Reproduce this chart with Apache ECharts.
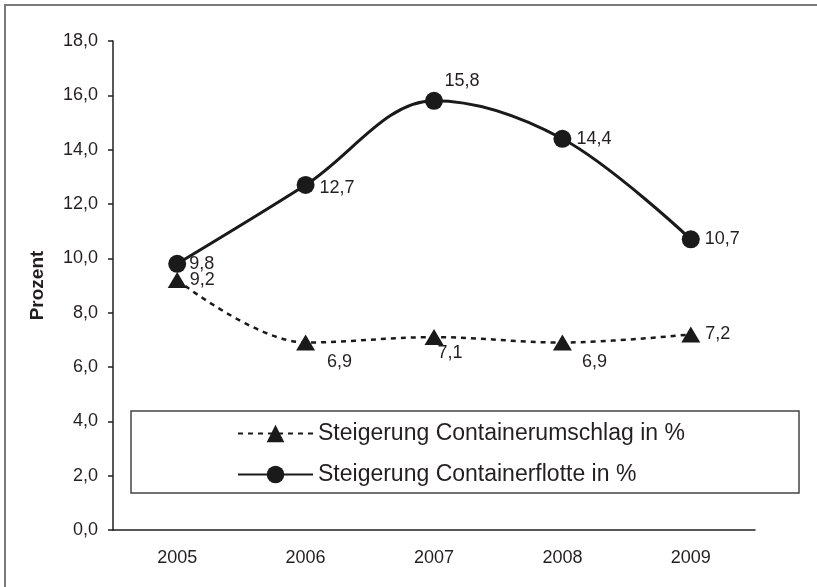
<!DOCTYPE html>
<html>
<head>
<meta charset="utf-8">
<script src="https://cdn.jsdelivr.net/npm/echarts@6/dist/echarts.min.js"></script>
<style>
  html, body { margin: 0; padding: 0; background: #fff; }
  #chart { width: 817px; height: 587px; }
</style>
</head>
<body>
<div id="chart"></div>
<script>
const years = ['2005', '2006', '2007', '2008', '2009']
const umschlag = [9.2, 6.9, 7.1, 6.9, 7.2]
const flotte = [9.8, 12.7, 15.8, 14.4, 10.7]
const seriesNames = ['Steigerung Containerumschlag in %', 'Steigerung Containerflotte in %']

const ink = '#231f20'
const font = 'Liberation Sans, Arial, sans-serif'
const fmt = v => v.toFixed(1).replace('.', ',')

// label placement per point (styling only)
const umschlagLabels = [
  { position: 'right', offset: [-2, 0] },
  { position: 'bottom', offset: [34, -3] },
  { position: 'bottom', offset: [16, -6] },
  { position: 'bottom', offset: [32, -3] },
  { position: 'right', offset: [0, 0] },
]
const flotteLabels = [
  { position: 'right', offset: [-2, 0] },
  { position: 'right', offset: [0, 3] },
  { position: 'top', offset: [28, 3] },
  { position: 'right', offset: [0, 0] },
  { position: 'right', offset: [0, 0] },
]

const labelBase = {
  show: true,
  color: ink,
  fontSize: 18,
  fontFamily: font,
  formatter: p => fmt(p.value),
}

const chart = echarts.init(document.getElementById('chart'))
chart.setOption({
  animation: false,
  textStyle: { fontFamily: font, color: ink },
  grid: { left: 113, right: 62, top: 41, bottom: 57 },
  graphic: [
    {
      type: 'polyline',
      shape: { points: [[5, 587], [5, 5], [817, 5]] },
      style: { stroke: '#7a7a7a', lineWidth: 2, fill: null },
      silent: true,
    },
    {
      type: 'rect',
      shape: { x: 131, y: 411, width: 668, height: 82 },
      style: { stroke: '#444', lineWidth: 1.5, fill: '#fff' },
      z: 0,
      silent: true,
    },
  ],
  legend: {
    orient: 'vertical',
    left: 237,
    top: 422,
    padding: 0,
    itemWidth: 75,
    itemHeight: 22,
    itemGap: 18,
    textStyle: { fontSize: 23, lineHeight: 22, color: ink, fontFamily: font },
    data: seriesNames,
    z: 5,
  },
  xAxis: {
    type: 'category',
    data: years,
    boundaryGap: true,
    axisLine: { lineStyle: { color: ink, width: 1.5 } },
    axisTick: { length: 5, lineStyle: { color: ink, width: 1.5 } },
    axisLabel: { color: ink, fontSize: 18, margin: 19, fontFamily: font },
  },
  yAxis: {
    type: 'value',
    min: 0,
    max: 18,
    interval: 2,
    name: 'Prozent',
    nameLocation: 'middle',
    nameGap: 66,
    nameTextStyle: { fontSize: 19, fontWeight: 'bold', color: ink, fontFamily: font },
    axisLine: { show: true, lineStyle: { color: ink, width: 1.5 } },
    axisTick: { show: true, length: 5, lineStyle: { color: ink, width: 1.5 } },
    splitLine: { show: false },
    axisLabel: { color: ink, fontSize: 18, margin: 15, formatter: fmt, fontFamily: font },
  },
  series: [
    {
      name: seriesNames[0],
      type: 'line',
      smooth: 0.35,
      symbol: 'triangle',
      symbolSize: [19, 16],
      itemStyle: { color: '#1a1a1a' },
      lineStyle: { color: '#1a1a1a', width: 2.5, type: [5, 5] },
      data: umschlag.map((v, i) => ({ value: v, label: umschlagLabels[i] })),
      label: labelBase,
      z: 3,
    },
    {
      name: seriesNames[1],
      type: 'line',
      smooth: 0.35,
      symbol: 'circle',
      symbolSize: 18,
      itemStyle: { color: '#1a1a1a' },
      lineStyle: { color: '#1a1a1a', width: 3 },
      data: flotte.map((v, i) => ({ value: v, label: flotteLabels[i] })),
      label: labelBase,
      z: 4,
    },
  ],
})
</script>
</body>
</html>
